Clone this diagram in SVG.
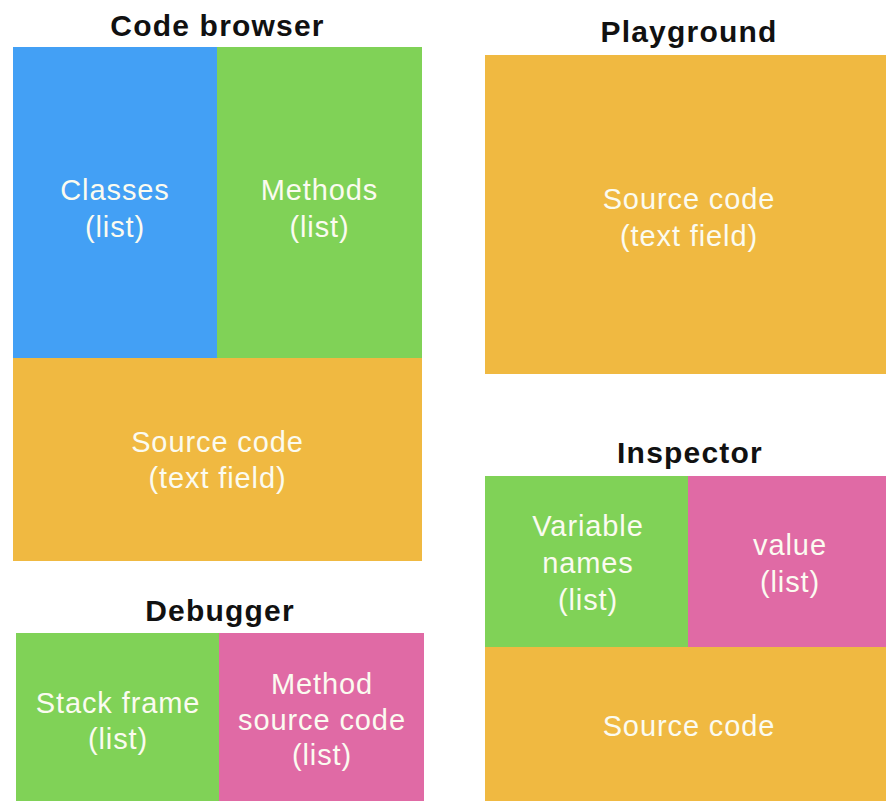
<svg xmlns="http://www.w3.org/2000/svg" width="886" height="801" viewBox="0 0 886 801">
  <style>
    .title { font-family: "Liberation Sans", Arial, sans-serif; font-weight: bold; font-size: 30px; fill: #111; text-anchor: middle; letter-spacing: 1.2px; }
    .label { font-family: "Liberation Sans", Arial, sans-serif; font-size: 29px; fill: #fbfbf0; text-anchor: middle; letter-spacing: 0.9px; }
    .blue { fill: #43a0f5; }
    .green { fill: #80d257; }
    .orange { fill: #f0b941; }
    .pink { fill: #e06aa5; }
  </style>
  <rect width="886" height="801" fill="#ffffff"/>

  <!-- Code browser window -->
  <g id="code-browser">
    <text class="title" x="217.5" y="36">Code browser</text>
    <g id="cb-classes">
      <rect class="blue" x="13" y="47" width="204" height="311"/>
      <text class="label" x="115" y="200">Classes</text>
      <text class="label" x="115" y="237">(list)</text>
    </g>
    <g id="cb-methods">
      <rect class="green" x="217" y="47" width="205" height="311"/>
      <text class="label" x="319.5" y="200">Methods</text>
      <text class="label" x="319.5" y="237">(list)</text>
    </g>
    <g id="cb-source">
      <rect class="orange" x="13" y="358" width="409" height="203"/>
      <text class="label" x="217.5" y="452">Source code</text>
      <text class="label" x="217.5" y="488">(text field)</text>
    </g>
  </g>

  <!-- Playground window -->
  <g id="playground">
    <text class="title" x="689" y="42">Playground</text>
    <g id="pg-source">
      <rect class="orange" x="485" y="55" width="401" height="319"/>
      <text class="label" x="689" y="209">Source code</text>
      <text class="label" x="689" y="246">(text field)</text>
    </g>
  </g>

  <!-- Inspector window -->
  <g id="inspector">
    <text class="title" x="690" y="463">Inspector</text>
    <g id="in-names">
      <rect class="green" x="485" y="476" width="203" height="171"/>
      <text class="label" x="588" y="536">Variable</text>
      <text class="label" x="588" y="573">names</text>
      <text class="label" x="588" y="610">(list)</text>
    </g>
    <g id="in-value">
      <rect class="pink" x="688" y="476" width="198" height="171"/>
      <text class="label" x="790" y="555">value</text>
      <text class="label" x="790" y="592">(list)</text>
    </g>
    <g id="in-source">
      <rect class="orange" x="485" y="647" width="401" height="154"/>
      <text class="label" x="689" y="736">Source code</text>
    </g>
  </g>

  <!-- Debugger window -->
  <g id="debugger">
    <text class="title" x="220" y="621">Debugger</text>
    <g id="db-stack">
      <rect class="green" x="16" y="633" width="203" height="168"/>
      <text class="label" x="118" y="713">Stack frame</text>
      <text class="label" x="118" y="749">(list)</text>
    </g>
    <g id="db-method">
      <rect class="pink" x="219" y="633" width="205" height="168"/>
      <text class="label" x="322" y="694">Method</text>
      <text class="label" x="322" y="730">source code</text>
      <text class="label" x="322" y="765">(list)</text>
    </g>
  </g>
</svg>
